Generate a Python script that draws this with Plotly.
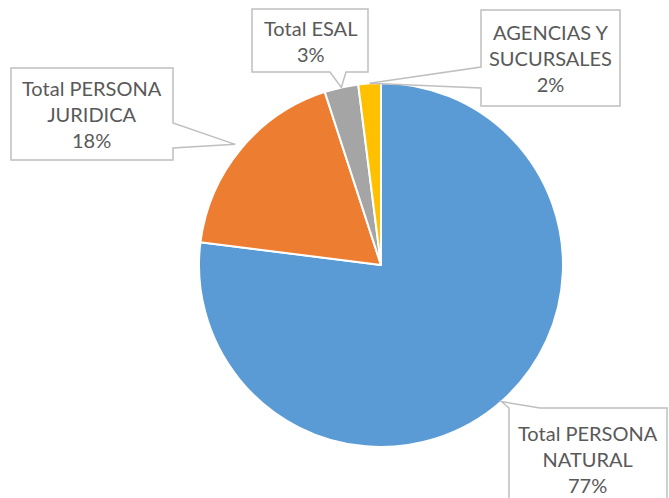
import numpy as np
import plotly.graph_objects as go

W, H = 669, 498

labels = ["Total PERSONA<br>NATURAL", "Total PERSONA<br>JURIDICA", "Total ESAL", "AGENCIAS Y<br>SUCURSALES"]
values = [77, 18, 3, 2]
colors = ["#5B9BD5", "#ED7D31", "#A5A5A5", "#FFC000"]

# pie placement in pixels
cx, cy, r = 381, 265, 182

# callout boxes: (x0, y0, x1, y1), side of wedge, wedge base interval, tip radius factor
boxes = [
    ((509, 408, 667, 512), "top", (509, 540), 1.0),
    ((11, 68, 173, 160), "right", (123, 148), 1.04),
    ((252, 9, 368, 72), "bottom", (330, 346), 1.0),
    ((481, 10, 620, 106), "left", (67, 88), 1.0),
]


def px(x, y):
    return x / W, 1 - y / H


def callout_path(box, side, base, tip):
    x0, y0, x1, y1 = box
    a, b = base
    pts = [(x0, y0)]
    if side == "top":
        pts += [(a, y0), tip, (b, y0)]
    pts += [(x1, y0)]
    if side == "right":
        pts += [(x1, a), tip, (x1, b)]
    pts += [(x1, y1)]
    if side == "bottom":
        pts += [(b, y1), tip, (a, y1)]
    pts += [(x0, y1)]
    if side == "left":
        pts += [(x0, b), tip, (x0, a)]
    coords = [px(*p) for p in pts]
    return "M " + " L ".join(f"{u:.5f},{v:.5f}" for u, v in coords) + " Z"


fig = go.Figure(
    go.Pie(
        labels=labels,
        values=values,
        sort=False,
        direction="clockwise",
        rotation=0,
        textinfo="none",
        hoverinfo="label+percent",
        marker=dict(colors=colors, line=dict(color="white", width=2)),
        domain=dict(
            x=[(cx - r) / W, (cx + r) / W],
            y=[1 - (cy + r) / H, 1 - (cy - r) / H],
        ),
        showlegend=False,
    )
)

total = sum(values)
cum = np.cumsum([0] + values)
for i, (lab, v) in enumerate(zip(labels, values)):
    box, side, base, k = boxes[i]
    mid = (cum[i] + v / 2) / total * 2 * np.pi
    tip = (cx + k * r * np.sin(mid), cy - k * r * np.cos(mid))
    fig.add_shape(
        type="path",
        xref="paper",
        yref="paper",
        path=callout_path(box, side, base, tip),
        fillcolor="white",
        line=dict(color="#BFBFBF", width=1.5),
        layer="above",
    )
    x0, y0, x1, y1 = box
    tx, ty = px((x0 + x1) / 2, (y0 + min(y1, H + 12)) / 2)
    fig.add_annotation(
        x=tx,
        y=ty,
        xref="paper",
        yref="paper",
        text=f"{lab}<br>{round(v / total * 100)}%",
        showarrow=False,
        xanchor="center",
        yanchor="middle",
        font=dict(family="Lato", size=20, color="#595959"),
    )

fig.update_layout(
    width=W,
    height=H,
    margin=dict(l=0, r=0, t=0, b=0),
    paper_bgcolor="white",
    plot_bgcolor="white",
)

# drop the default page margin so the figure sits at the window's corner
fig.write_html(
    "out.html",
    config={"displayModeBar": False},
    post_script="document.body.style.margin='0';",
)
